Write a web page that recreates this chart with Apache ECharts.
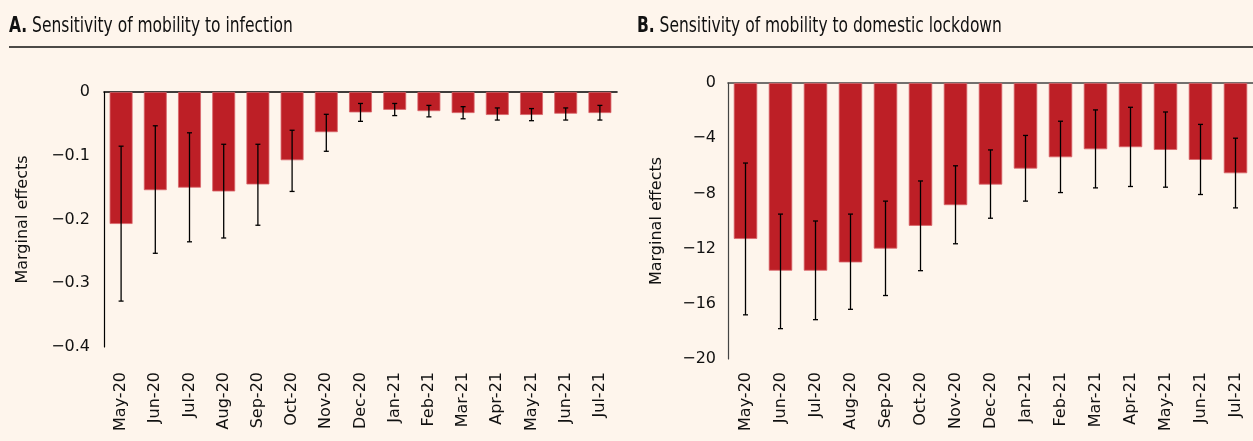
<!DOCTYPE html>
<html>
<head>
<meta charset="utf-8">
<script src="https://cdn.jsdelivr.net/npm/echarts@6/dist/echarts.min.js"></script>
<style>
  html, body { margin: 0; padding: 0; background: #fef5ec; }
  #main { width: 1253px; height: 441px; }
</style>
</head>
<body>
<div id="main"></div>
<script>
// months on both panels
var months = ['May-20', 'Jun-20', 'Jul-20', 'Aug-20', 'Sep-20', 'Oct-20', 'Nov-20', 'Dec-20',
  'Jan-21', 'Feb-21', 'Mar-21', 'Apr-21', 'May-21', 'Jun-21', 'Jul-21']

// A. infection
var infEffect = [-0.207, -0.154, -0.150, -0.156, -0.145, -0.107, -0.063, -0.032, -0.028, -0.030, -0.033, -0.036, -0.036, -0.034, -0.033]
var infLow = [-0.328, -0.253, -0.235, -0.229, -0.209, -0.156, -0.093, -0.046, -0.037, -0.039, -0.042, -0.044, -0.045, -0.044, -0.044]
var infHigh = [-0.085, -0.053, -0.064, -0.082, -0.082, -0.060, -0.035, -0.018, -0.018, -0.021, -0.023, -0.025, -0.026, -0.025, -0.021]

// B. domestic lockdown
var lockEffect = [-11.3, -13.6, -13.6, -13.0, -12.0, -10.35, -8.85, -7.36, -6.2, -5.38, -4.8, -4.65, -4.85, -5.57, -6.54]
var lockLow = [-16.8, -17.8, -17.15, -16.4, -15.4, -13.6, -11.65, -9.8, -8.56, -7.94, -7.6, -7.5, -7.55, -8.08, -9.05]
var lockHigh = [-5.8, -9.5, -10.0, -9.5, -8.56, -7.1, -6.0, -4.85, -3.8, -2.77, -1.95, -1.76, -2.1, -3.0, -4.0]

var titles = ['Sensitivity of mobility to infection', 'Sensitivity of mobility to domestic lockdown']

var red = '#bd1f26'
var labelFont = 'DejaVu Sans'
var titleFont = '"Liberation Sans Narrow", "DejaVu Sans Condensed", sans-serif'

function minus (v) {
  if (v === 0) return '0'
  return '\u2212' + (+Math.abs(v).toFixed(2))
}

function errRender (params, api) {
  var top = api.coord([api.value(0), api.value(2)])
  var bot = api.coord([api.value(0), api.value(1)])
  var st = { stroke: '#000', lineWidth: 1.3 }
  return {
    type: 'group',
    children: [
      { type: 'line', shape: { x1: top[0], y1: top[1], x2: bot[0], y2: bot[1] }, style: st },
      { type: 'line', shape: { x1: top[0] - 2.5, y1: top[1], x2: top[0] + 2.5, y2: top[1] }, style: st },
      { type: 'line', shape: { x1: bot[0] - 2.5, y1: bot[1], x2: bot[0] + 2.5, y2: bot[1] }, style: st }
    ]
  }
}

function errData (low, high) {
  return low.map(function (l, i) { return [i, l, high[i]] })
}

// panel heading, squeezed a bit to match the narrow title face
function heading (x, letter, txt) {
  return {
    type: 'text', x: x, y: 16, scaleX: 0.82,
    style: {
      text: '{b|' + letter + '} ' + txt,
      font: '21px ' + titleFont, fill: '#111',
      rich: { b: { fontFamily: titleFont, fontSize: 21, fontWeight: 'bold', fill: '#111' } }
    }
  }
}

var chart = echarts.init(document.getElementById('main'))
chart.setOption({
  backgroundColor: '#fef5ec',
  animation: false,
  graphic: [
    heading(9, 'A.', titles[0]),
    heading(637, 'B.', titles[1]),
    { type: 'line', shape: { x1: 9, y1: 47, x2: 1253, y2: 47 }, style: { stroke: '#111', lineWidth: 1.6 } }
  ],
  grid: [
    { left: 104, top: 92, width: 513, height: 255 },
    { left: 728, top: 83, width: 526, height: 276 }
  ],
  xAxis: [
    {
      type: 'category', gridIndex: 0, data: months, position: 'bottom',
      axisLine: { show: false }, axisTick: { show: false },
      axisLabel: { rotate: 90, margin: 25, interval: 0, fontFamily: labelFont, fontSize: 16, color: '#111' }
    },
    {
      type: 'category', gridIndex: 0, data: months, position: 'top',
      axisLine: { show: true, onZero: false, lineStyle: { color: '#000', width: 1.6 } },
      axisTick: { show: false }, axisLabel: { show: false }
    },
    {
      type: 'category', gridIndex: 1, data: months, position: 'bottom',
      axisLine: { show: false }, axisTick: { show: false },
      axisLabel: { rotate: 90, margin: 13, interval: 0, fontFamily: labelFont, fontSize: 16, color: '#111' }
    },
    {
      type: 'category', gridIndex: 1, data: months, position: 'top',
      axisLine: { show: true, onZero: false, lineStyle: { color: '#444', width: 1.6 } },
      axisTick: { show: false }, axisLabel: { show: false }
    }
  ],
  yAxis: [
    {
      type: 'value', gridIndex: 0, min: -0.4, max: 0, interval: 0.1,
      name: 'Marginal effects', nameLocation: 'middle', nameGap: 73,
      nameTextStyle: { fontFamily: labelFont, fontSize: 16, color: '#111' },
      axisLine: { show: true, lineStyle: { color: '#000', width: 1.2 } },
      axisTick: { show: false }, splitLine: { show: false },
      axisLabel: { formatter: minus, margin: 14, fontFamily: labelFont, fontSize: 16, color: '#111' }
    },
    {
      type: 'value', gridIndex: 1, min: -20, max: 0, interval: 4,
      name: 'Marginal effects', nameLocation: 'middle', nameGap: 63,
      nameTextStyle: { fontFamily: labelFont, fontSize: 16, color: '#111' },
      axisLine: { show: true, lineStyle: { color: '#444', width: 1.2 } },
      axisTick: { show: false }, splitLine: { show: false },
      axisLabel: { formatter: minus, margin: 12, fontFamily: labelFont, fontSize: 16, color: '#111' }
    }
  ],
  series: [
    {
      type: 'bar', xAxisIndex: 0, yAxisIndex: 0, data: infEffect, barCategoryGap: '33%',
      itemStyle: { color: red, borderColor: '#d9666b', borderWidth: 0.8 }
    },
    {
      type: 'custom', xAxisIndex: 0, yAxisIndex: 0, renderItem: errRender,
      data: errData(infLow, infHigh), encode: { x: 0, y: [1, 2] }, z: 5
    },
    {
      type: 'bar', xAxisIndex: 2, yAxisIndex: 1, data: lockEffect, barCategoryGap: '33%',
      itemStyle: { color: red, borderColor: '#d9666b', borderWidth: 0.8 }
    },
    {
      type: 'custom', xAxisIndex: 2, yAxisIndex: 1, renderItem: errRender,
      data: errData(lockLow, lockHigh), encode: { x: 0, y: [1, 2] }, z: 5
    }
  ]
})
</script>
</body>
</html>
